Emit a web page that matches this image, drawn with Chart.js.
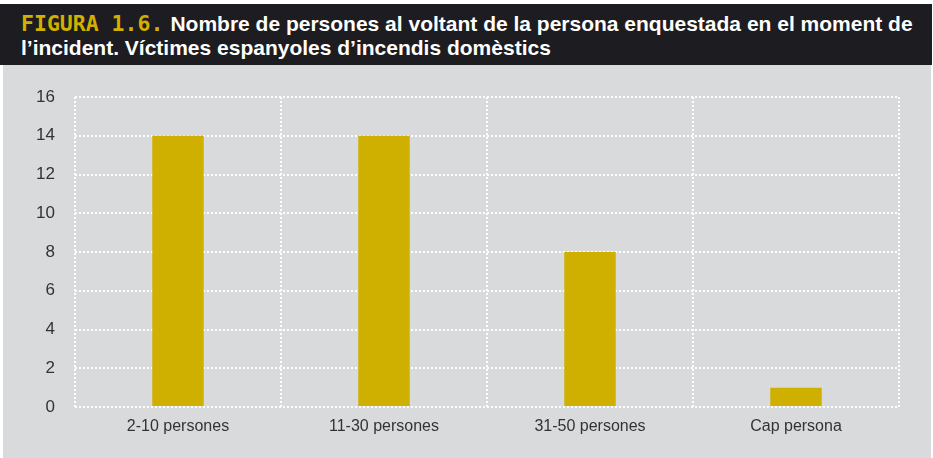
<!DOCTYPE html>
<html>
<head>
<meta charset="utf-8">
<script src="https://cdn.jsdelivr.net/npm/chart.js@4"></script>
<style>
  body { margin: 0; background: #fff; width: 933px; height: 458px; overflow: hidden; position: relative; }
  #header {
    position: absolute; left: 0; top: 4px; width: 932px; height: 61px;
    background: #1d1c20; color: #fff;
    font-family: "Liberation Sans", Arial, sans-serif; font-weight: bold; font-size: 21px;
    line-height: 24px; box-sizing: border-box; padding: 8px 0 0 21px; white-space: nowrap;
  }
  #header .fig { color: #d2b000; font-family: "DejaVu Sans Mono", monospace; font-size: 21.5px; margin-right: 7px; }
  #panel { position: absolute; left: 3px; top: 65px; width: 928px; height: 393px; background: #d9dadc; }
</style>
</head>
<body>
<div id="header"><span class="fig">FIGURA 1.6.</span>Nombre de persones al voltant de la persona enquestada en el moment de<br>l’incident. Víctimes espanyoles d’incendis domèstics</div>
<div id="panel"><canvas id="myChart" width="928" height="393"></canvas></div>
<script>
const categories = ['2-10 persones', '11-30 persones', '31-50 persones', 'Cap persona'];
const values = [14, 14, 8, 1];

const ctx = document.getElementById('myChart').getContext('2d');

const data = {
  labels: categories,
  datasets: [{
    data: values,
    backgroundColor: '#cfb000',
    borderWidth: 0,
    categoryPercentage: 1,
    barPercentage: 0.25
  }]
};

const gridStyle = {
  color: '#ffffff',
  lineWidth: 2,
  drawTicks: false
};

const config = {
  type: 'bar',
  data: data,
  options: {
    responsive: false,
    animation: false,
    layout: { padding: { top: 32, right: 32, left: 0, bottom: 0 } },
    plugins: {
      legend: { display: false },
      tooltip: { enabled: false }
    },
    scales: {
      x: {
        grid: { ...gridStyle, offset: true },
        border: { display: false, dash: [2, 2] },
        ticks: { color: '#333', font: { family: 'Liberation Sans', size: 16 }, padding: 10 },
        afterFit: (s) => { s.height = 51; }
      },
      y: {
        min: 0,
        max: 16,
        grid: gridStyle,
        border: { display: false, dash: [2, 2] },
        ticks: { stepSize: 2, color: '#333', font: { family: 'Liberation Sans', size: 17 }, padding: 20 },
        afterFit: (s) => { s.width = 72; }
      }
    }
  }
};

new Chart(ctx, config);
</script>
</body>
</html>
